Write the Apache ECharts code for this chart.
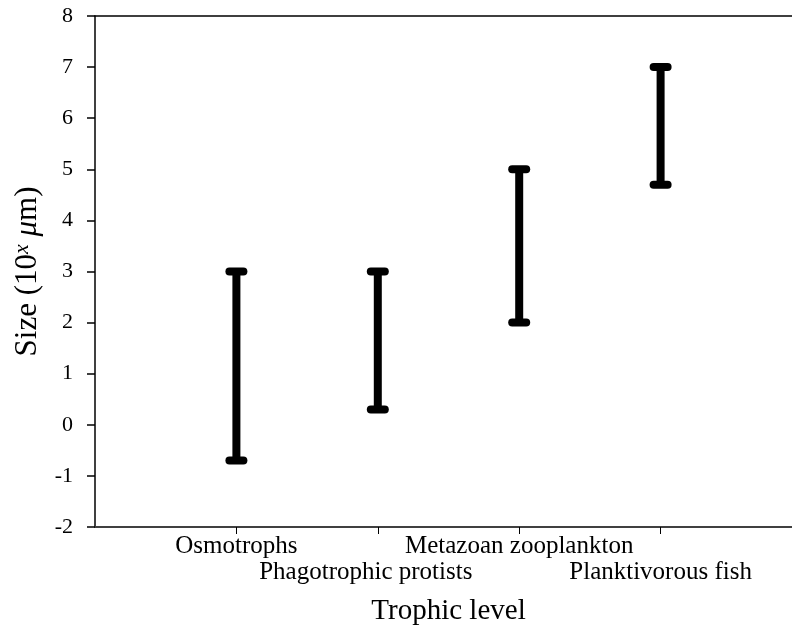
<!DOCTYPE html>
<html>
<head>
<meta charset="utf-8">
<script src="https://cdn.jsdelivr.net/npm/echarts@6/dist/echarts.min.js"></script>
<style>
  html, body { margin: 0; padding: 0; background: #fff; }
  #chart { width: 792px; height: 630px; }
</style>
</head>
<body>
<div id="chart"></div>
<script>
// trophic levels along the x axis
var categories = ['Osmotrophs', 'Phagotrophic protists', 'Metazoan zooplankton', 'Planktivorous fish']
var positions = [1, 2, 3, 4]
// size range, log10(um)
var sizeLow = [-0.7, 0.3, 2, 4.7]
var sizeHigh = [3, 3, 5, 7]
var yTicks = [-2, -1, 0, 1, 2, 3, 4, 5, 6, 7, 8]

var font = 'Liberation Serif, Times New Roman, serif'

var data = []
for (var i = 0; i < positions.length; i++) {
  data.push([positions[i], sizeLow[i], sizeHigh[i]])
}
// labels are staggered on two rows
var rowOne = positions.filter(function (p) { return p % 2 == 1 })
var rowTwo = positions.filter(function (p) { return p % 2 == 0 })

var chart = echarts.init(document.getElementById('chart'))

function renderBar(params, api) {
  var x = api.value(0)
  var top = api.coord([x, api.value(2)])
  var bot = api.coord([x, api.value(1)])
  var half = 7
  var st = { stroke: '#000', lineWidth: 8, lineCap: 'round' }
  return {
    type: 'group',
    children: [
      { type: 'line', shape: { x1: top[0], y1: top[1], x2: bot[0], y2: bot[1] }, style: { stroke: '#000', lineWidth: 8, lineCap: 'butt' } },
      { type: 'line', shape: { x1: top[0] - half, y1: top[1], x2: top[0] + half, y2: top[1] }, style: st },
      { type: 'line', shape: { x1: bot[0] - half, y1: bot[1], x2: bot[0] + half, y2: bot[1] }, style: st }
    ]
  }
}

function labelAxis(values, margin, showLine) {
  return {
    type: 'value',
    position: 'bottom',
    min: 0, max: 5, interval: 1,
    axisLine: { show: showLine, onZero: false, lineStyle: { color: '#404040', width: 2 } },
    axisTick: { show: true, length: 7, customValues: values, lineStyle: { color: '#000', width: 1 } },
    splitLine: { show: false },
    axisLabel: {
      customValues: values,
      showMinLabel: true,
      showMaxLabel: true,
      hideOverlap: false,
      margin: margin,
      fontFamily: font, fontSize: 25, color: '#000',
      formatter: function (v) {
        var name = categories[v - 1]
        if (v == 2) return '{s|' + name + '}'
        return name
      },
      rich: {
        s: { fontFamily: font, fontSize: 25, color: '#000', padding: [0, 24, 0, 0] }
      }
    }
  }
}

var xMain = labelAxis(rowOne, 7, true)
xMain.name = 'Trophic level'
xMain.nameLocation = 'middle'
xMain.nameGap = 70
xMain.nameTextStyle = { fontFamily: font, fontSize: 29, color: '#000' }
var xSecond = labelAxis(rowTwo, 33, false)

var option = {
  backgroundColor: '#fff',
  animation: false,
  grid: { left: 95, top: 16, right: -10, bottom: 103, containLabel: false, outerBoundsMode: 'none' },
  xAxis: [xMain, {
    type: 'value',
    position: 'top',
    min: 0, max: 5,
    axisLine: { show: true, onZero: false, lineStyle: { color: '#000', width: 1.5 } },
    axisTick: { show: false },
    axisLabel: { show: false },
    splitLine: { show: false }
  }, xSecond],
  yAxis: {
    type: 'value',
    min: yTicks[0], max: yTicks[yTicks.length - 1], interval: 1,
    name: '{a|Size (10}{sup|x}{b| μ}{a|m)}',
    nameLocation: 'middle',
    nameGap: 50,
    nameRotate: 90,
    nameTextStyle: {
      fontFamily: font, fontSize: 31, color: '#000',
      rich: {
        a: { fontFamily: font, fontSize: 31, color: '#000' },
        sup: { fontFamily: font, fontSize: 22, fontStyle: 'italic', color: '#000', verticalAlign: 'top', padding: [0, 0, 12, 0] },
        b: { fontFamily: font, fontSize: 31, fontStyle: 'italic', color: '#000' }
      }
    },
    axisLine: { show: true, onZero: false, lineStyle: { color: '#000', width: 1.5 } },
    axisTick: { show: true, length: 8, lineStyle: { color: '#000', width: 1.5 } },
    splitLine: { show: false },
    axisLabel: { margin: 22, fontFamily: font, fontSize: 22, color: '#000' }
  },
  series: [{
    type: 'custom',
    renderItem: renderBar,
    data: data,
    clip: false
  }]
}

chart.setOption(option)
</script>
</body>
</html>
